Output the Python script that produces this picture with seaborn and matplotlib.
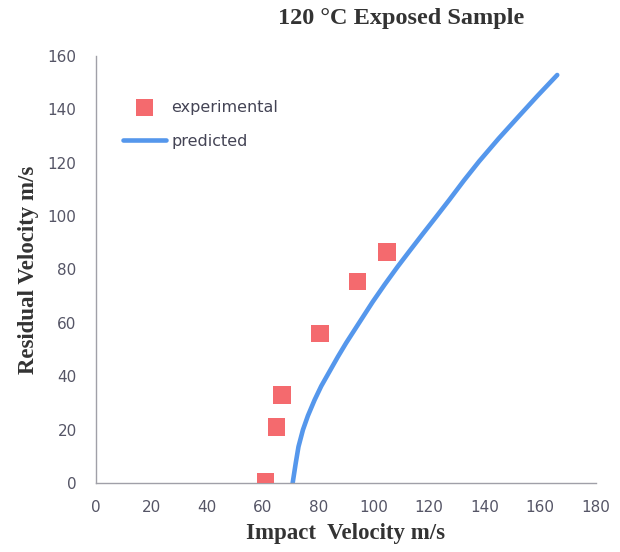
import numpy as np
import pandas as pd
import matplotlib
matplotlib.use('Agg')
import matplotlib.pyplot as plt
import seaborn as sns

# experimental points
exp_impact = [61, 65, 67, 80.7, 94.2, 104.8]
exp_residual = [0.5, 21, 33, 56, 75.5, 86.6]

# predicted curve
pred_impact = [70.8, 71.9, 72.9, 74.5, 76.3, 78.7, 81.1, 84.1, 87.1, 90.1, 94.5, 99.6,
               104.0, 108.6, 113.0, 117.6, 122.5, 127.2, 132.5, 138.0, 145.0, 152.4, 159.0, 166.1]
pred_residual = [0, 7.4, 13.6, 19.9, 25.2, 31.1, 36.3, 41.8, 47.3, 52.5, 59.6, 67.8,
                 74.4, 81, 87, 93.2, 99.7, 106, 113.3, 120.5, 129, 137.5, 145, 152.8]

df_exp = pd.DataFrame({'impact': exp_impact, 'residual': exp_residual})
df_pred = pd.DataFrame({'impact': pred_impact, 'residual': pred_residual})

sns.set_style('white')
plt.rcParams['font.family'] = ['DejaVu Sans']

fig = plt.figure(figsize=(6.2, 5.52), dpi=100)
ax = fig.add_axes([0.155, 0.125, 0.806, 0.774])

sns.scatterplot(data=df_exp, x='impact', y='residual', marker='s', s=160, color='#F46A6E',
                edgecolor='none', label='experimental', ax=ax, zorder=3)
sns.lineplot(data=df_pred, x='impact', y='residual', color='#5597EC', lw=3.3, sort=False,
             estimator=None, label='predicted', ax=ax, zorder=2)
ax.lines[-1].set_solid_capstyle('round')
ax.lines[-1].set_solid_joinstyle('round')

ax.set_xlim(0, 180)
ax.set_ylim(0, 160)
ax.set_xticks(np.arange(0, 181, 20))
ax.set_yticks(np.arange(0, 161, 20))
ax.tick_params(axis='both', length=0, labelsize=11, labelcolor='#555566')
ax.tick_params(axis='x', pad=12)
ax.tick_params(axis='y', pad=14)

for side in ['top', 'right']:
    ax.spines[side].set_visible(False)
for side in ['left', 'bottom']:
    ax.spines[side].set_color('#A0A0A8')
    ax.spines[side].set_linewidth(1.0)

serif = ['Liberation Serif', 'DejaVu Serif']
ax.set_xlabel('Impact  Velocity m/s', fontsize=16.5, fontweight='bold', family=serif,
              color='#333333', labelpad=6)
ax.set_ylabel('Residual Velocity m/s', fontsize=16.5, fontweight='bold', family=serif,
              color='#333333', labelpad=6)
fig.text(0.647, 0.966, '120 °C Exposed Sample', ha='center', va='center', fontsize=17.5,
         fontweight='bold', family=serif, color='#333333')

ax.legend(loc='upper left', bbox_to_anchor=(0.054, 0.897), frameon=False, fontsize=11.5,
          handlelength=2.7, labelspacing=1.2, handletextpad=0.3, borderaxespad=0,
          borderpad=0, labelcolor='#444455')

fig.savefig('out.png', dpi=100)
